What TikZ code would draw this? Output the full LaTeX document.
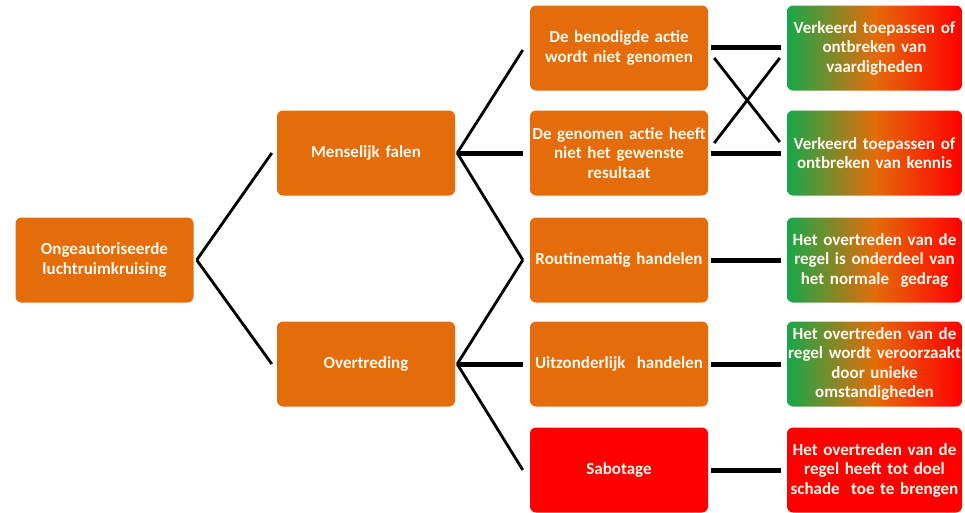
\documentclass[tikz,border=0pt]{standalone}
\usepackage{fontspec}
\setmainfont{Carlito}
\definecolor{boxorange}{HTML}{E46C0A}
\definecolor{boxred}{HTML}{FF0000}
\definecolor{boxgreen}{HTML}{16A84A}
\definecolor{txt}{HTML}{FFF8EC}
\begin{document}
\begin{tikzpicture}[x=1pt,y=-1pt,
  base/.style={rounded corners=6pt, minimum height=85pt, align=center, text=txt,
    font=\fontsize{17}{19.5}\selectfont\bfseries, inner sep=1pt},
  obox/.style={base, fill=boxorange, minimum width=178pt, text width=176pt},
  rbox/.style={base, fill=boxred, minimum width=178pt, text width=176pt},
  gbox/.style={base, left color=boxgreen, right color=boxred, middle color=boxorange, minimum width=175pt, text width=173pt},
  sbox/.style={base, fill=boxred, minimum width=175pt, text width=173pt},
  thin/.style={line width=2.8pt},
  thick/.style={line width=5pt}]
\useasboundingbox (0,0) rectangle (965,512);
\node[obox, minimum width=177pt] (root) at (104.5,260) {Ongeautoriseerde\\luchtruimkruising};
\node[obox] (mf) at (366,153) {Menselijk falen};
\node[obox] (ov) at (366,364) {Overtreding};
\node[obox] (a1) at (619,48) {De benodigde actie\\wordt niet genomen};
\node[obox] (a2) at (619,153) {De genomen actie heeft\\niet het gewenste\\resultaat};
\node[obox] (a3) at (619,260) {Routinematig handelen};
\node[obox] (a4) at (619,364) {Uitzonderlijk\ \ handelen};
\node[rbox] (a5) at (619,470) {Sabotage};
\node[gbox] (b1) at (874.5,48) {Verkeerd toepassen of\\ontbreken van\\vaardigheden};
\node[gbox] (b2) at (874.5,153) {Verkeerd toepassen of\\ontbreken van kennis};
\node[gbox] (b3) at (874.5,260) {Het overtreden van de\\regel is onderdeel van\\het normale\ \ gedrag};
\node[gbox] (b4) at (874.5,364) {Het overtreden van de\\regel wordt veroorzaakt\\door unieke\\omstandigheden};
\node[sbox] (b5) at (874.5,470) {Het overtreden van de\\regel heeft tot doel\\schade\ \ toe te brengen};
% level 1 -> 2
\coordinate (r0) at ([xshift=3pt]root.east);
\draw[thin] (r0) -- ([xshift=-5pt]mf.west);
\draw[thin] (r0) -- ([xshift=-5pt]ov.west);
% level 2 -> 3
\coordinate (m0) at ([xshift=2pt]mf.east);
\coordinate (o0) at ([xshift=2pt]ov.east);
\draw[thin] (m0) -- ([xshift=-7pt,yshift=-2pt]a1.west);
\draw[thick] (m0) -- ([xshift=-7pt]a2.west);
\draw[thin] (m0) -- ([xshift=-7pt]a3.west);
\draw[thin] (o0) -- ([xshift=-7pt]a3.west);
\draw[thick] (o0) -- ([xshift=-7pt]a4.west);
\draw[thin] (o0) -- ([xshift=-7pt]a5.west);
% level 3 -> 4
\draw[thick] ([xshift=3pt,yshift=1pt]a1.east) -- ([xshift=-6pt,yshift=1pt]b1.west);
\draw[thick] ([xshift=3pt]a2.east) -- ([xshift=-6pt]b2.west);
\draw[thin] ([xshift=6pt,yshift=-10pt]a1.east) -- ([xshift=-7pt,yshift=11pt]b2.west);
\draw[thin] ([xshift=6pt,yshift=10pt]a2.east) -- ([xshift=-7pt,yshift=-10pt]b1.west);
\draw[thick] ([xshift=3pt]a3.east) -- ([xshift=-6pt]b3.west);
\draw[thick] ([xshift=3pt]a4.east) -- ([xshift=-6pt]b4.west);
\draw[thick] ([xshift=3pt]a5.east) -- ([xshift=-6pt]b5.west);
\end{tikzpicture}
\end{document}
